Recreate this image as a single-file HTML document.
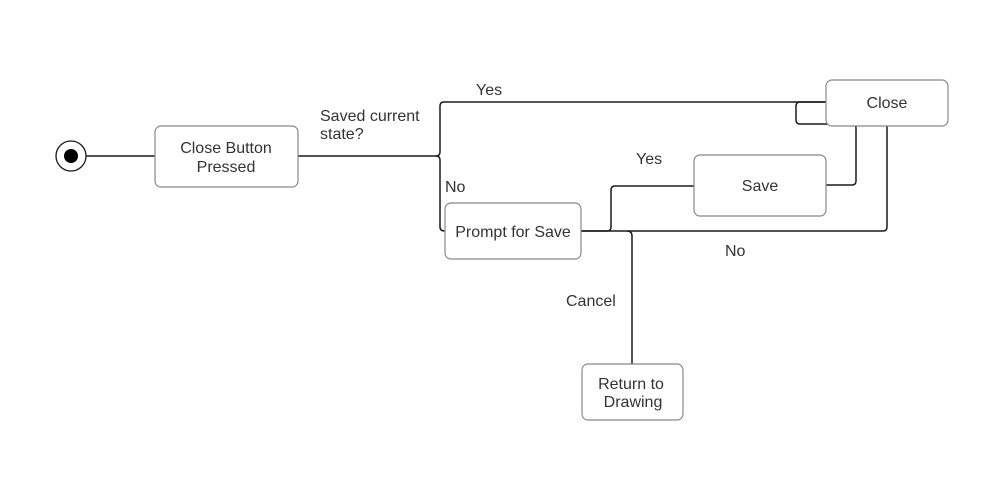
<!DOCTYPE html>
<html><head><style>
body{margin:0;background:#fff;}
svg text{font-family:"Liberation Sans",Arial,sans-serif;font-size:16px;fill:#333;}
</style></head><body>
<svg width="994" height="487" viewBox="0 0 994 487" xmlns="http://www.w3.org/2000/svg">
<g fill="none" stroke="#1a1a1a" stroke-width="1.5">
<circle cx="71" cy="156" r="15" stroke-width="1.3"/>
<line x1="86" y1="156" x2="155" y2="156"/>
<path d="M298 156 H436 Q440 156 440 152 V106 Q440 102 444 102 H826"/>
<path d="M436 156 Q440 156 440 160 V227 Q440 231 445 231"/>
<path d="M826 102 H800 Q796 102 796 106 V120 Q796 124 800 124 H852 Q856 124 856 128 V181 Q856 185 852 185 H826"/>
<path d="M581 231 H607 Q611 231 611 227 V190 Q611 186 615 186 H694"/>
<path d="M581 231 H883 Q887 231 887 227 V126"/>
<path d="M627 231 Q632 231 632 236 V364"/>
</g>
<circle cx="71" cy="156" r="7" fill="#000"/>
<g fill="#fff" stroke="#888" stroke-width="1.2">
<rect x="155" y="126" width="143" height="61" rx="6"/>
<rect x="826" y="80" width="122" height="46" rx="6"/>
<rect x="694" y="155" width="132" height="61" rx="6"/>
<rect x="445" y="203" width="136" height="56" rx="6"/>
<rect x="582" y="364" width="101" height="56" rx="6"/>
</g>
<text x="226" y="153" text-anchor="middle">Close Button</text>
<text x="226" y="172" text-anchor="middle">Pressed</text>
<text x="887" y="108" text-anchor="middle">Close</text>
<text x="760" y="191" text-anchor="middle">Save</text>
<text x="513" y="237" text-anchor="middle">Prompt for Save</text>
<text x="631" y="389" text-anchor="middle">Return to</text>
<text x="633" y="407" text-anchor="middle">Drawing</text>
<text x="320" y="121">Saved current</text>
<text x="320" y="139">state?</text>
<text x="476" y="95">Yes</text>
<text x="445" y="192">No</text>
<text x="636" y="164">Yes</text>
<text x="725" y="256">No</text>
<text x="566" y="306">Cancel</text>
</svg>
</body></html>
